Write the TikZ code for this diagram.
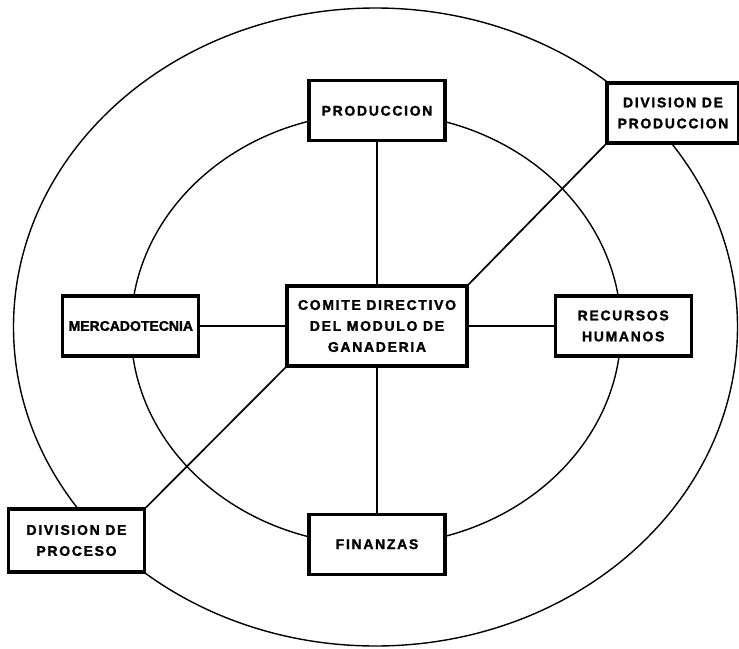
\documentclass[tikz,border=0pt]{standalone}
\usepackage{fontspec}
\setmainfont{Liberation Sans}
\newfontfamily\rotulo[LetterSpace=12, BoldFeatures={FakeBold=1.6}]{Liberation Sans}
\newfontfamily\rotulocorto[BoldFeatures={FakeBold=1.6}]{Liberation Sans}
\usetikzlibrary{positioning}
\tikzset{
  unidad/.style={rectangle, draw, line width=3.2pt, fill=white, minimum width=136pt, minimum height=60pt, inner sep=0pt, align=center, font=\rotulo\bfseries\fontsize{14}{21}\selectfont},
  central/.style={unidad, minimum width=180pt, minimum height=80pt},
  enlace/.style={line width=1.7pt},
  anillo/.style={line width=1.4pt}
}

\begin{document}
\begin{tikzpicture}[x=1pt, y=-1pt]
  \useasboundingbox (0,0) rectangle (739,648);
  % Rings
  \draw [anillo] (375.5,327) ellipse [x radius=362pt, y radius=319pt];
  \draw [anillo] (376,329) ellipse [x radius=245pt, y radius=216pt];

  % Nodes
  \node (comite) [central] at (377,326) {COMITE DIRECTIVO\\DEL MODULO DE\\GANADERIA};
  \node (produccion) [unidad, above=142pt of comite] {PRODUCCION};
  \node (finanzas) [unidad, below=145pt of comite] {FINANZAS};
  \node (mercadotecnia) [unidad, left=85pt of comite, font=\rotulocorto\bfseries\fontsize{14}{21}\selectfont] {MERCADOTECNIA};
  \node (recursos) [unidad, right=85pt of comite] {RECURSOS\\HUMANOS};
  \node (divproduccion) [unidad, minimum width=132pt] at (673,113) {DIVISION DE\\PRODUCCION};
  \node (divproceso) [unidad, minimum height=63pt] at (76.5,540.5) {DIVISION DE\\PROCESO};

  % Links
  \draw [enlace] (comite) -- (produccion);
  \draw [enlace] (comite) -- (finanzas);
  \draw [enlace] (comite) -- (mercadotecnia);
  \draw [enlace] (comite) -- (recursos);
  \draw [enlace] (comite.north east) -- (divproduccion.south west);
  \draw [enlace] (comite.south west) -- (divproceso.north east);
\end{tikzpicture}
\end{document}
